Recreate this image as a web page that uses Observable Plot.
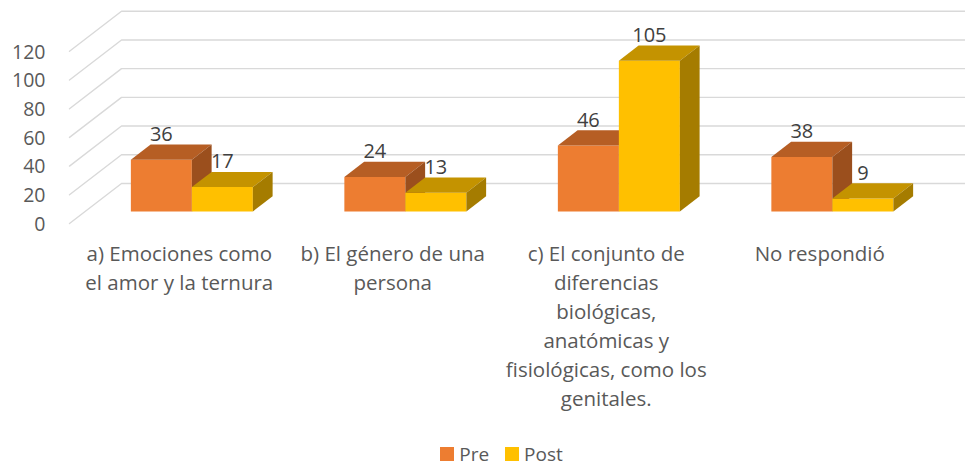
<!DOCTYPE html>
<html>
<head>
<meta charset="utf-8">
<script src="https://cdn.jsdelivr.net/npm/d3@7"></script>
<script src="https://cdn.jsdelivr.net/npm/@observablehq/plot@0.6"></script>
<style>
  html, body { margin: 0; padding: 0; background: #fff; overflow: hidden; width: 965px; height: 468px; }
  #chart svg { display: block; overflow: hidden; }
  #legend { display: flex; justify-content: center; align-items: center; height: 28px;
            font-family: "Open Sans", Lato, sans-serif; font-size: 19px; color: #595959; padding-left: 38px; }
  #legend .sw { width: 14px; height: 14px; display: inline-block; margin-right: 5px; }
  #legend .item { display: flex; align-items: center; margin: 0 8px; }
</style>
</head>
<body>
<div id="chart"></div>
<div id="legend"></div>
<script>
// ---- data ----
const categories = [
  "a) Emociones como\nel amor y la ternura",
  "b) El género de una\npersona",
  "c) El conjunto de\ndiferencias\nbiológicas,\nanatómicas y\nfisiológicas, como los\ngenitales.",
  "No respondió"
];
const seriesNames = ["Pre", "Post"];
const preValues = [36, 24, 46, 38];
const postValues = [17, 13, 105, 9];
const yTicks = [0, 20, 40, 60, 80, 100, 120];
const seriesColors = ["#ED7D31", "#FFC000"];
const topColors = ["#B65E24", "#C49300"];
const sideColors = ["#9B4F1D", "#A57C00"];

// ---- 3D layout constants (in scale units) ----
const DX = 0.2436;   // horizontal shift of full floor depth, category units
const DY = 27.9;     // vertical shift of full floor depth, value units
const FRONT = 0.3, BACK = 0.68; // bar depth range (0 = front, 1 = back)
const BAR_W = 0.2857, GAP = 0.2143;

const P = (x, v, d) => ({px: x + d * DX, pv: v + d * DY});

const values = [preValues, postValues];
const faces = [];
const labels = [];
categories.forEach((c, i) => {
  seriesNames.forEach((s, j) => {
    const h = values[j][i];
    const xl = i + GAP + j * BAR_W, xr = xl + BAR_W;
    const id = `${i}-${j}`;
    const poly = (name, fill, pts) => pts.forEach((p, k) => faces.push({id: id + name, fill, ...P(...p), k}));
    poly("f", seriesColors[j], [[xl,0,FRONT],[xr,0,FRONT],[xr,h,FRONT],[xl,h,FRONT]]);
    poly("t", topColors[j], [[xl,h,FRONT],[xr,h,FRONT],[xr,h,BACK],[xl,h,BACK]]);
    poly("s", sideColors[j], [[xr,0,FRONT],[xr,0,BACK],[xr,h,BACK],[xr,h,FRONT]]);
    labels.push({...P(xl + BAR_W / 2, h, FRONT), pv: h + BACK * DY, text: String(h)});
  });
});

const grid = [];
yTicks.forEach(v => {
  [[0, v, 0], [0, v, 1], [categories.length, v, 1]].forEach(p => grid.push({tick: v, ...P(...p)}));
});

const plot = Plot.plot({
  width: 965,
  height: 440,
  margin: 0,
  x: {type: "linear", domain: [0, 4], range: [69, 923], axis: null},
  y: {type: "linear", domain: [0, 140], range: [223, 223 - 1.435 * 140], axis: null},
  color: {type: "identity"},
  style: {fontFamily: "'Open Sans', Lato, sans-serif", fontSize: "19px", color: "#595959", background: "#fff"},
  marks: [
    Plot.line(grid, {x: "px", y: "pv", z: "tick", stroke: "#D9D9D9", strokeWidth: 1.4}),
    Plot.text(yTicks, {x: () => 0, y: d => d, text: d => String(d), textAnchor: "end", dx: -24, dy: 1, fontSize: 19.5, fill: "#595959"}),
    Plot.line(faces, {x: "px", y: "pv", z: "id", fill: "fill", stroke: "none", curve: "linear-closed"}),
    Plot.text(labels, {x: "px", y: "pv", text: "text", dy: -10, fontSize: 20, fill: "#404040"}),
    Plot.text(categories, {x: (d, i) => i + 0.5, y: () => 0, text: d => d, dy: 17, dx: 3, lineAnchor: "top", lineHeight: 1.415, fontSize: 20.5, fill: "#595959"})
  ]
});
document.getElementById("chart").appendChild(plot);

const legend = document.getElementById("legend");
seriesNames.forEach((s, j) => {
  const item = document.createElement("div");
  item.className = "item";
  const sw = document.createElement("span");
  sw.className = "sw";
  sw.style.background = seriesColors[j];
  item.appendChild(sw);
  item.appendChild(document.createTextNode(s));
  legend.appendChild(item);
});
</script>
</body>
</html>
